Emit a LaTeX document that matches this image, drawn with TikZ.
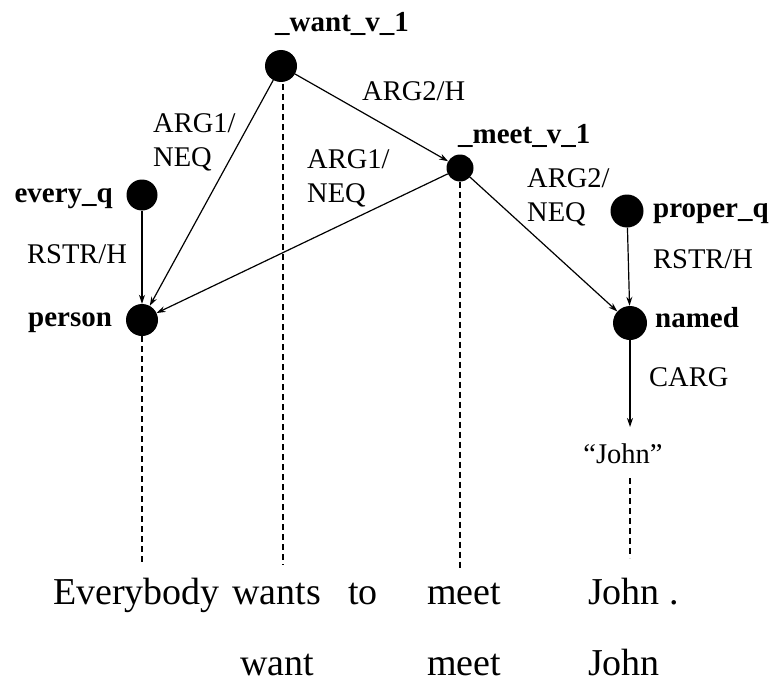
\documentclass[tikz,border=0pt]{standalone}
\usepackage{fontspec}
\setmainfont{Liberation Serif}
\usetikzlibrary{arrows.meta}
\begin{document}
\begin{tikzpicture}[x=1pt,y=-1pt,
  dot/.style={circle,fill=black,inner sep=0pt,minimum size=#1},
  nm/.style={inner sep=0pt,font=\fontsize{29}{32}\selectfont\bfseries},
  lbl/.style={inner sep=0pt,font=\fontsize{28.5}{34}\selectfont,align=left},
  wd/.style={inner sep=0pt,font=\fontsize{38}{40}\selectfont},
  arr/.style={-{Stealth[length=9pt,width=6pt]},line width=1.2pt},
  dsh/.style={line width=1.1pt,dash pattern=on 6pt off 4pt}]
\useasboundingbox (0,0) rectangle (775,682);
% predicate nodes
\node[dot=32pt] (want) at (281,66) {};
\node[dot=27pt] (meet) at (460,168) {};
\node[dot=31pt] (every) at (142,195) {};
\node[dot=32pt] (person) at (142,320) {};
\node[dot=33pt] (proper) at (627,211) {};
\node[dot=34pt] (named) at (630,323) {};
\node[lbl,anchor=base] (john) at (623,463) {``John''};
% names
\node[nm,anchor=base west] (wantl) at (275,32) {\_want\_v\_1};
\node[nm,anchor=base west] (meetl) at (458,143) {\_meet\_v\_1};
\node[nm,anchor=base east] (everyl) at (113,202) {every\_q};
\node[nm,anchor=base west] (personl) at (28,326) {person};
\node[nm,anchor=base west] (properl) at (653,217) {proper\_q};
\node[nm,anchor=base west] (namedl) at (655,327) {named};
% edge labels
\node[lbl,anchor=base west] (l1) at (362,100) {ARG2/H};
\node[lbl,anchor=north west] (l2) at (153,113) {ARG1/\\NEQ};
\node[lbl,anchor=north west] (l3) at (307,149) {ARG1/\\NEQ};
\node[lbl,anchor=north west] (l4) at (527,168) {ARG2/\\NEQ};
\node[lbl,anchor=base west] (l5) at (27,263) {RSTR/H};
\node[lbl,anchor=base west] (l6) at (653,268) {RSTR/H};
\node[lbl,anchor=base west] (l7) at (649,386) {CARG};
% edges
\draw[arr] (want) -- (meet);
\draw[arr] (want) -- (person);
\draw[arr] (meet) -- (person);
\draw[arr] (every) -- (person);
\draw[arr] (meet) -- (named);
\draw[arr] (proper) -- (named);
\coordinate (jtop) at (630,427);
\draw[arr] (named) -- (jtop);
% sentence
\node[wd,anchor=base west] (w1) at (53,604) {Everybody};
\node[wd,anchor=base west] (w2) at (232,604) {wants};
\node[wd,anchor=base west] (w3) at (348,604) {to};
\node[wd,anchor=base west] (w4) at (427,604) {meet};
\node[wd,anchor=base west] (w5) at (588,604) {John .};
\node[wd,anchor=base west] (v2) at (240,675) {want};
\node[wd,anchor=base west] (v4) at (427,675) {meet};
\node[wd,anchor=base west] (v5) at (588,675) {John};
% alignment lines
\coordinate (pb) at (142,562);
\coordinate (wb) at (283,565);
\coordinate (mb) at (460,568);
\coordinate (jt) at (630,478);
\coordinate (jb) at (630,558);
\draw[dsh] (person.south) -- (pb);
\draw[dsh] (283,84) -- (wb);
\draw[dsh] (meet.south) -- (mb);
\draw[dsh] (jt) -- (jb);
\end{tikzpicture}
\end{document}
